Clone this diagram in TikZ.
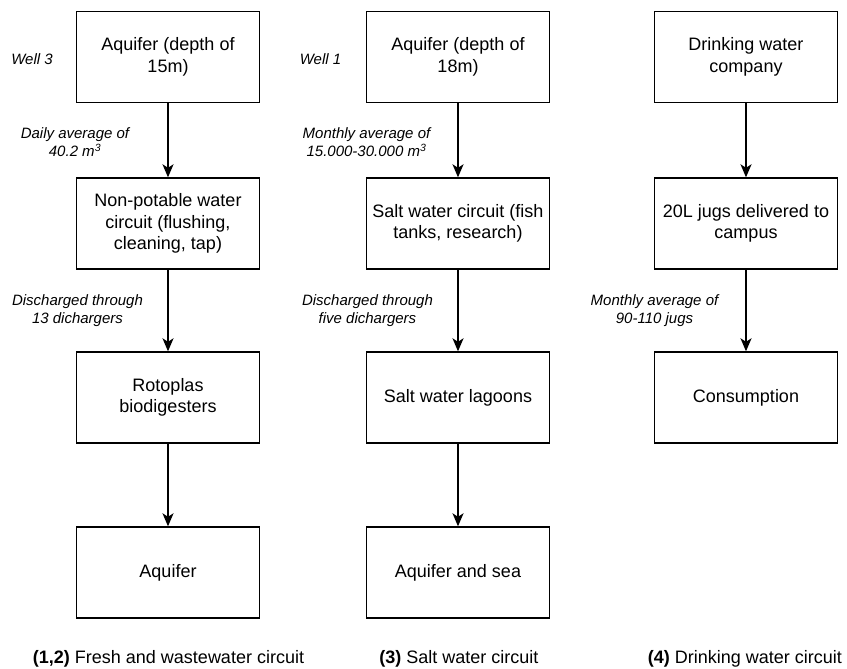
\documentclass[tikz,border=0pt]{standalone}
\usepackage{fontspec}
\setmainfont{Liberation Sans}
\usetikzlibrary{arrows.meta}
\begin{document}
\begin{tikzpicture}[x=1pt,y=-1pt,
  stage/.style={draw, line width=1.4pt, minimum width=183pt, minimum height=91pt,
    inner sep=0pt, align=center, font=\fontsize{18}{21.6}\selectfont},
  flow/.style={line width=1.5pt, -{Stealth[length=13pt,width=11pt,inset=3.5pt]}},
  note/.style={inner sep=0pt, align=center, font=\fontsize{15}{18}\selectfont\itshape},
  caption/.style={inner sep=0pt, anchor=base, font=\fontsize{18}{21.6}\selectfont}]
\useasboundingbox (0,0) rectangle (847,669);

% column 1: fresh and wastewater
\node[stage] (a1) at (168,57)    {Aquifer (depth of\\15m)};
\node[stage] (a2) at (168,223.5) {Non-potable water\\circuit (flushing,\\cleaning, tap)};
\node[stage] (a3) at (168,397.5) {Rotoplas\\biodigesters};
\node[stage] (a4) at (168,572.5) {Aquifer};
\draw[flow] (a1) -- (a2);
\draw[flow] (a2) -- (a3);
\draw[flow] (a3) -- (a4);
\node[note] (w3) at (32,59) {Well 3};
\node[note] (d1) at (75,142) {Daily average of\\40.2 m\textsuperscript{3}};
\node[note] (d2) at (77.5,311) {Discharged through\\13 dichargers};

% column 2: salt water
\node[stage] (b1) at (458,57)    {Aquifer (depth of\\18m)};
\node[stage] (b2) at (458,223.5) {Salt water circuit (fish\\tanks, research)};
\node[stage] (b3) at (458,397.5) {Salt water lagoons};
\node[stage] (b4) at (458,572.5) {Aquifer and sea};
\draw[flow] (b1) -- (b2);
\draw[flow] (b2) -- (b3);
\draw[flow] (b3) -- (b4);
\node[note] (w1) at (320.5,59) {Well 1};
\node[note] (m1) at (366.5,142) {Monthly average of\\15.000-30.000 m\textsuperscript{3}};
\node[note] (m2) at (367.5,311) {Discharged through\\five dichargers};

% column 3: drinking water
\node[stage] (c1) at (746,57)    {Drinking water\\company};
\node[stage] (c2) at (746,223.5) {20L jugs delivered to\\campus};
\node[stage] (c3) at (746,397.5) {Consumption};
\draw[flow] (c1) -- (c2);
\draw[flow] (c2) -- (c3);
\node[note] (j1) at (654.5,311) {Monthly average of\\90-110 jugs};

% circuit captions
\node[caption] (t1) at (168.5,663) {\textbf{(1,2)} Fresh and wastewater circuit};
\node[caption] (t2) at (459,663)   {\textbf{(3)} Salt water circuit};
\node[caption] (t3) at (745,663)   {\textbf{(4)} Drinking water circuit};
\end{tikzpicture}
\end{document}
